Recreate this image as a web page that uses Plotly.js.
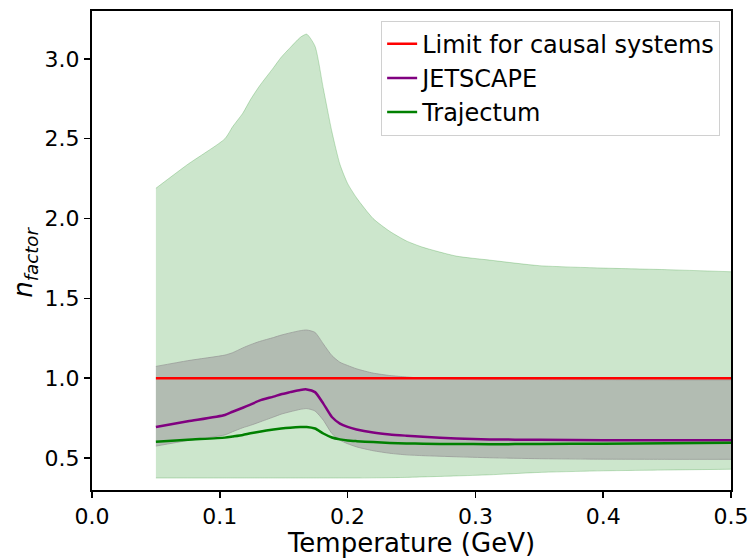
<!DOCTYPE html>
<html>
<head>
<meta charset="utf-8">
<script src="https://cdn.plot.ly/plotly-3.0.1.min.js"></script>
<style>html,body{margin:0;padding:0;background:#fff;}#chart{width:751px;height:558px;}</style>
</head>
<body>
<div id="chart"></div>
<script>
// Temperature grid (GeV)
const temperature = [0.05, 0.075, 0.104, 0.11, 0.118, 0.124, 0.131, 0.142, 0.148, 0.155, 0.163, 0.168, 0.1745, 0.181, 0.1877, 0.194, 0.2, 0.207, 0.22, 0.233, 0.246, 0.259, 0.285, 0.311, 0.35, 0.4, 0.45, 0.5];

// Trajectum band (green)
const trajectumUpper = [2.19, 2.34, 2.50, 2.575, 2.66, 2.745, 2.83, 2.945, 3.01, 3.07, 3.135, 3.155, 3.08, 2.815, 2.545, 2.34, 2.22, 2.13, 2.00, 1.92, 1.86, 1.82, 1.765, 1.74, 1.705, 1.69, 1.68, 1.667];
const trajectumLower = [0.375, 0.375, 0.375, 0.375, 0.375, 0.375, 0.375, 0.375, 0.375, 0.375, 0.375, 0.375, 0.375, 0.375, 0.375, 0.375, 0.375, 0.375, 0.376, 0.377, 0.379, 0.382, 0.388, 0.395, 0.41, 0.42, 0.425, 0.43];

// JETSCAPE band (gray)
const jetscapeUpper = [1.074, 1.11, 1.145, 1.16, 1.19, 1.21, 1.23, 1.255, 1.27, 1.284, 1.298, 1.302, 1.287, 1.215, 1.142, 1.10, 1.08, 1.059, 1.032, 1.017, 1.008, 1.0, 0.995, 0.993, 0.992, 0.991, 0.99, 0.99];
const jetscapeLower = [0.575, 0.61, 0.645, 0.665, 0.69, 0.705, 0.725, 0.757, 0.775, 0.79, 0.805, 0.81, 0.795, 0.737, 0.654, 0.612, 0.59, 0.57, 0.546, 0.53, 0.52, 0.515, 0.508, 0.502, 0.496, 0.493, 0.492, 0.492];

// Central curves
const jetscape = [0.695, 0.73, 0.77, 0.79, 0.815, 0.835, 0.86, 0.885, 0.90, 0.913, 0.927, 0.93, 0.913, 0.841, 0.757, 0.716, 0.695, 0.679, 0.66, 0.648, 0.64, 0.633, 0.623, 0.617, 0.614, 0.612, 0.611, 0.611];
const trajectum = [0.602, 0.615, 0.628, 0.635, 0.645, 0.655, 0.665, 0.679, 0.685, 0.69, 0.694, 0.695, 0.685, 0.654, 0.629, 0.617, 0.61, 0.606, 0.60, 0.595, 0.592, 0.59, 0.588, 0.587, 0.588, 0.59, 0.593, 0.596];

// Causality limit
const limitT = [0.05, 0.5];
const limitValue = [1.0, 1.0];

const seriesNames = ["Limit for causal systems", "JETSCAPE", "Trajectum"];
const xTicks = [0.0, 0.1, 0.2, 0.3, 0.4, 0.5];
const xTickLabels = ["0.0", "0.1", "0.2", "0.3", "0.4", "0.5"];
const yTicks = [0.5, 1.0, 1.5, 2.0, 2.5, 3.0];
const yTickLabels = ["0.5", "1.0", "1.5", "2.0", "2.5", "3.0"];

const smooth = {shape: 'spline', smoothing: 0.6};

const traces = [
  {x: temperature, y: trajectumLower, type: 'scatter', mode: 'lines',
   line: Object.assign({color: 'rgba(0,128,0,0.22)', width: 1}, smooth),
   showlegend: false, hoverinfo: 'skip'},
  {x: temperature, y: trajectumUpper, type: 'scatter', mode: 'lines', fill: 'tonexty',
   fillcolor: 'rgba(0,128,0,0.2)', line: Object.assign({color: 'rgba(0,128,0,0.22)', width: 1}, smooth),
   showlegend: false, hoverinfo: 'skip'},
  {x: temperature, y: jetscapeLower, type: 'scatter', mode: 'lines',
   line: Object.assign({color: 'rgba(150,150,150,0.7)', width: 1}, smooth),
   showlegend: false, hoverinfo: 'skip'},
  {x: temperature, y: jetscapeUpper, type: 'scatter', mode: 'lines', fill: 'tonexty',
   fillcolor: 'rgba(160,160,160,0.6)', line: Object.assign({color: 'rgba(150,150,150,0.7)', width: 1}, smooth),
   showlegend: false, hoverinfo: 'skip'},
  {x: limitT, y: limitValue, type: 'scatter', mode: 'lines', name: seriesNames[0],
   line: {color: 'red', width: 2.5}},
  {x: temperature, y: jetscape, type: 'scatter', mode: 'lines', name: seriesNames[1],
   line: Object.assign({color: 'purple', width: 2.5}, smooth)},
  {x: temperature, y: trajectum, type: 'scatter', mode: 'lines', name: seriesNames[2],
   line: Object.assign({color: 'green', width: 2.5}, smooth)}
];

const axisCommon = {
  showgrid: false, zeroline: false, showline: true, mirror: true,
  linecolor: 'black', linewidth: 2, ticks: 'outside', ticklen: 6, tickwidth: 1.5,
  tickcolor: 'black', tickfont: {family: 'DejaVu Sans', size: 22, color: 'black'}
};

const layout = {
  width: 751, height: 558,
  margin: {l: 92, r: 20, t: 11, b: 68},
  paper_bgcolor: 'white', plot_bgcolor: 'white',
  font: {family: 'DejaVu Sans', color: 'black'},
  xaxis: Object.assign({}, axisCommon, {
    range: [0, 0.5], tickvals: xTicks, ticktext: xTickLabels,
    title: {text: 'Temperature (GeV)', font: {family: 'DejaVu Sans', size: 26, color: 'black'}, standoff: 1}
  }),
  yaxis: Object.assign({}, axisCommon, {
    range: [0.3, 3.3], tickvals: yTicks, ticktext: yTickLabels,
    title: {text: '<i>n</i><sub><i>factor</i></sub>&nbsp;&nbsp;&nbsp;', font: {family: 'DejaVu Sans', size: 26, color: 'black'}, standoff: 4}
  }),
  legend: {
    x: 0.983, y: 0.98, xanchor: 'right', yanchor: 'top', traceorder: 'normal',
    bgcolor: 'rgba(255,255,255,0.85)', bordercolor: '#d0d0d0', borderwidth: 1,
    font: {family: 'DejaVu Sans', size: 24, color: 'black'}
  },
  showlegend: true
};

Plotly.newPlot('chart', traces, layout, {displayModeBar: false, staticPlot: true});
</script>
</body>
</html>
